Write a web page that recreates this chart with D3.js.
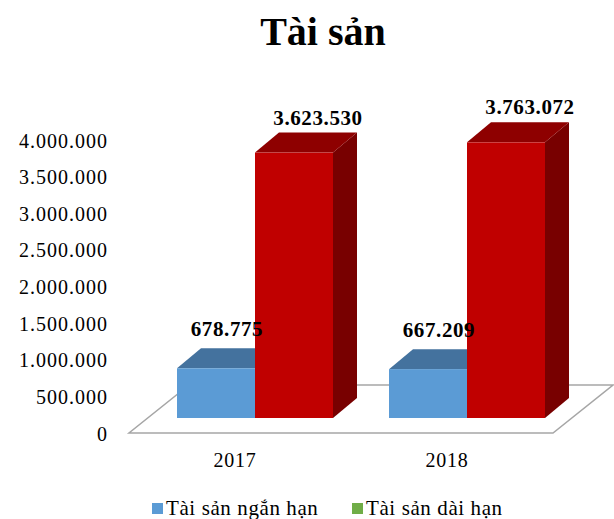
<!DOCTYPE html>
<html>
<head>
<meta charset="utf-8">
<script src="https://cdn.jsdelivr.net/npm/d3@7"></script>
<style>
body{margin:0;background:#fff}
text{font-family:"Liberation Serif","Times New Roman",serif;fill:#000}
</style>
</head>
<body>
<svg width="614" height="519"></svg>
<script>
const years=["2017","2018"]
const series=["Tài sản ngắn hạn","Tài sản dài hạn"]
const nganHan=[678775,667209]
const daiHan=[3623530,3763072]
const ticks=[0,500000,1000000,1500000,2000000,2500000,3000000,3500000,4000000]
const legendColors=["#5B9BD5","#70AD47"]

const svg=d3.select("svg")
const fmt=v=>d3.format(",")(v).replace(/,/g,".")

// 3d look: front face + top + right side
const faces=[["#5B9BD5","#44729E","#3C6690"],["#C00000","#8E0000","#780000"]]
const dep={x:24,y:-20}
const floorDep={x:60,y:-48}

const x=d3.scaleBand().domain(years).range([129,553])
const xs=d3.scaleBand().domain(series).range([48,204])
const y=d3.scaleLinear().domain([0,4000000]).range([433,140])
const yb=v=>y(v)-15

// title
svg.append("text").attr("x",323).attr("y",45).attr("text-anchor","middle")
.style("font-size","40px").style("font-weight","bold").text("Tài sản")

// y axis labels only, no line
const ax=svg.append("g").attr("transform","translate(108,0)")
.call(d3.axisLeft(y).tickValues(ticks).tickFormat(fmt).tickSize(0).tickPadding(0))
ax.select(".domain").remove()
ax.selectAll("text").style("font-size","20px").style("letter-spacing","1px")
.attr("dy","0.35em").attr("font-family",null)

// floor
const fx0=x.range()[0],fx1=x.range()[1],fy=y(0)
svg.append("path")
.attr("d",`M${fx0},${fy}L${fx1},${fy}L${fx1+floorDep.x},${fy+floorDep.y}L${fx0+floorDep.x},${fy+floorDep.y}Z`)
.attr("fill","#fff").attr("stroke","#A6A6A6").attr("stroke-width",1.5)

const rows=[]
years.forEach((yr,i)=>{
 rows.push({yr,s:0,v:nganHan[i]})
 rows.push({yr,s:1,v:daiHan[i]})
})

const bars=svg.append("g"),labels=svg.append("g")
rows.forEach(d=>{
 const x0=x(d.yr)+xs(series[d.s]),w=xs.bandwidth()
 const top=yb(d.v),bot=yb(0)
 const g=bars.append("g")
 g.append("path").attr("fill",faces[d.s][2])
 .attr("d",`M${x0+w},${top}L${x0+w+dep.x},${top+dep.y}L${x0+w+dep.x},${bot+dep.y}L${x0+w},${bot}Z`)
 g.append("path").attr("fill",faces[d.s][1])
 .attr("d",`M${x0},${top}L${x0+dep.x},${top+dep.y}L${x0+w+dep.x},${top+dep.y}L${x0+w},${top}Z`)
 g.append("rect").attr("x",x0).attr("y",top).attr("width",w).attr("height",bot-top).attr("fill",faces[d.s][0])
 // labels go in their own layer so they sit over the bars
 labels.append("text").attr("x",x0+w/2+(d.s?24:11)).attr("y",top+dep.y-(d.s?8:12))
 .attr("text-anchor","middle").style("font-size","21px").style("font-weight","bold")
 .style("letter-spacing","0.6px").text(fmt(d.v))
})

// category labels at floor front
svg.selectAll(".cat").data(years).join("text").attr("class","cat")
.attr("x",d=>x(d)+x.bandwidth()/2).attr("y",467).attr("text-anchor","middle")
.style("font-size","20px").style("letter-spacing","0.8px").text(d=>d)

// legend
const lx=[152,352]
series.forEach((s,i)=>{
 svg.append("rect").attr("x",lx[i]).attr("y",503).attr("width",11).attr("height",11).attr("fill",legendColors[i])
 svg.append("text").attr("x",lx[i]+14).attr("y",515).style("font-size","21px").style("letter-spacing","0.6px").text(s)
})
</script>
</body>
</html>
